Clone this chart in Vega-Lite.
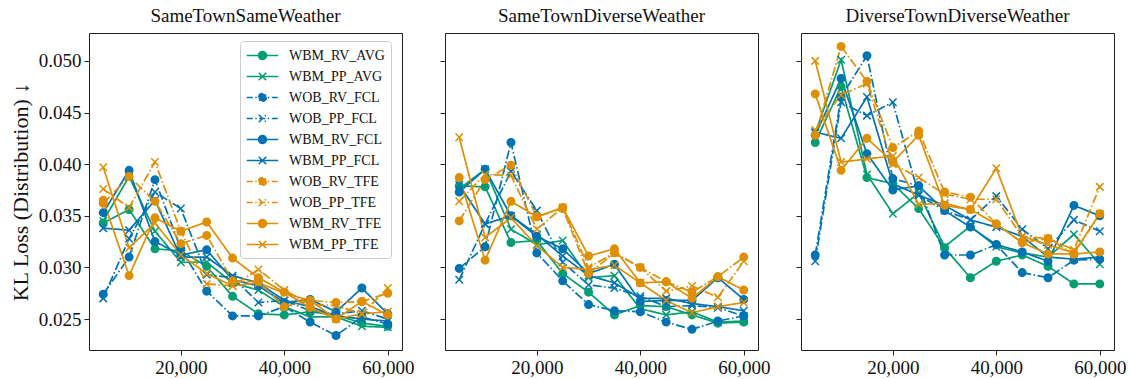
{
"$schema": "https://vega.github.io/schema/vega-lite/v6.json",
"background": "white",
"padding": {"left": 8, "top": 6, "right": 10, "bottom": 2},
"bounds": "flush",
"datasets": {
"A": [
{"series":"WBM_RV_AVG","steps":5000,"kl":0.0343},{"series":"WBM_RV_AVG","steps":10000,"kl":0.0356},{"series":"WBM_RV_AVG","steps":15000,"kl":0.0318},{"series":"WBM_RV_AVG","steps":20000,"kl":0.0316},{"series":"WBM_RV_AVG","steps":25000,"kl":0.0301},{"series":"WBM_RV_AVG","steps":30000,"kl":0.0272},{"series":"WBM_RV_AVG","steps":35000,"kl":0.0255},{"series":"WBM_RV_AVG","steps":40000,"kl":0.0254},{"series":"WBM_RV_AVG","steps":45000,"kl":0.0257},{"series":"WBM_RV_AVG","steps":50000,"kl":0.0254},{"series":"WBM_RV_AVG","steps":55000,"kl":0.0246},{"series":"WBM_RV_AVG","steps":60000,"kl":0.0243},
{"series":"WBM_PP_AVG","steps":5000,"kl":0.0345},{"series":"WBM_PP_AVG","steps":10000,"kl":0.0388},{"series":"WBM_PP_AVG","steps":15000,"kl":0.0335},{"series":"WBM_PP_AVG","steps":20000,"kl":0.0305},{"series":"WBM_PP_AVG","steps":25000,"kl":0.0305},{"series":"WBM_PP_AVG","steps":30000,"kl":0.0285},{"series":"WBM_PP_AVG","steps":35000,"kl":0.0278},{"series":"WBM_PP_AVG","steps":40000,"kl":0.0262},{"series":"WBM_PP_AVG","steps":45000,"kl":0.0252},{"series":"WBM_PP_AVG","steps":50000,"kl":0.0252},{"series":"WBM_PP_AVG","steps":55000,"kl":0.0243},{"series":"WBM_PP_AVG","steps":60000,"kl":0.0242},
{"series":"WOB_RV_FCL","steps":5000,"kl":0.0274},{"series":"WOB_RV_FCL","steps":10000,"kl":0.0310},{"series":"WOB_RV_FCL","steps":15000,"kl":0.0385},{"series":"WOB_RV_FCL","steps":20000,"kl":0.0318},{"series":"WOB_RV_FCL","steps":25000,"kl":0.0277},{"series":"WOB_RV_FCL","steps":30000,"kl":0.0253},{"series":"WOB_RV_FCL","steps":35000,"kl":0.0253},{"series":"WOB_RV_FCL","steps":40000,"kl":0.0262},{"series":"WOB_RV_FCL","steps":45000,"kl":0.0247},{"series":"WOB_RV_FCL","steps":50000,"kl":0.0234},{"series":"WOB_RV_FCL","steps":55000,"kl":0.0252},{"series":"WOB_RV_FCL","steps":60000,"kl":0.0245},
{"series":"WOB_PP_FCL","steps":5000,"kl":0.0270},{"series":"WOB_PP_FCL","steps":10000,"kl":0.0328},{"series":"WOB_PP_FCL","steps":15000,"kl":0.0373},{"series":"WOB_PP_FCL","steps":20000,"kl":0.0357},{"series":"WOB_PP_FCL","steps":25000,"kl":0.0293},{"series":"WOB_PP_FCL","steps":30000,"kl":0.0290},{"series":"WOB_PP_FCL","steps":35000,"kl":0.0266},{"series":"WOB_PP_FCL","steps":40000,"kl":0.0268},{"series":"WOB_PP_FCL","steps":45000,"kl":0.0258},{"series":"WOB_PP_FCL","steps":50000,"kl":0.0255},{"series":"WOB_PP_FCL","steps":55000,"kl":0.0258},{"series":"WOB_PP_FCL","steps":60000,"kl":0.0250},
{"series":"WBM_RV_FCL","steps":5000,"kl":0.0353},{"series":"WBM_RV_FCL","steps":10000,"kl":0.0394},{"series":"WBM_RV_FCL","steps":15000,"kl":0.0325},{"series":"WBM_RV_FCL","steps":20000,"kl":0.0312},{"series":"WBM_RV_FCL","steps":25000,"kl":0.0317},{"series":"WBM_RV_FCL","steps":30000,"kl":0.0288},{"series":"WBM_RV_FCL","steps":35000,"kl":0.0282},{"series":"WBM_RV_FCL","steps":40000,"kl":0.0266},{"series":"WBM_RV_FCL","steps":45000,"kl":0.0269},{"series":"WBM_RV_FCL","steps":50000,"kl":0.0257},{"series":"WBM_RV_FCL","steps":55000,"kl":0.0280},{"series":"WBM_RV_FCL","steps":60000,"kl":0.0255},
{"series":"WBM_PP_FCL","steps":5000,"kl":0.0338},{"series":"WBM_PP_FCL","steps":10000,"kl":0.0336},{"series":"WBM_PP_FCL","steps":15000,"kl":0.0365},{"series":"WBM_PP_FCL","steps":20000,"kl":0.0310},{"series":"WBM_PP_FCL","steps":25000,"kl":0.0310},{"series":"WBM_PP_FCL","steps":30000,"kl":0.0292},{"series":"WBM_PP_FCL","steps":35000,"kl":0.0285},{"series":"WBM_PP_FCL","steps":40000,"kl":0.0268},{"series":"WBM_PP_FCL","steps":45000,"kl":0.0262},{"series":"WBM_PP_FCL","steps":50000,"kl":0.0253},{"series":"WBM_PP_FCL","steps":55000,"kl":0.0250},{"series":"WBM_PP_FCL","steps":60000,"kl":0.0248},
{"series":"WOB_RV_TFE","steps":5000,"kl":0.0362},{"series":"WOB_RV_TFE","steps":10000,"kl":0.0388},{"series":"WOB_RV_TFE","steps":15000,"kl":0.0364},{"series":"WOB_RV_TFE","steps":20000,"kl":0.0323},{"series":"WOB_RV_TFE","steps":25000,"kl":0.0331},{"series":"WOB_RV_TFE","steps":30000,"kl":0.0287},{"series":"WOB_RV_TFE","steps":35000,"kl":0.0286},{"series":"WOB_RV_TFE","steps":40000,"kl":0.0262},{"series":"WOB_RV_TFE","steps":45000,"kl":0.0268},{"series":"WOB_RV_TFE","steps":50000,"kl":0.0266},{"series":"WOB_RV_TFE","steps":55000,"kl":0.0267},{"series":"WOB_RV_TFE","steps":60000,"kl":0.0275},
{"series":"WOB_PP_TFE","steps":5000,"kl":0.0376},{"series":"WOB_PP_TFE","steps":10000,"kl":0.0358},{"series":"WOB_PP_TFE","steps":15000,"kl":0.0402},{"series":"WOB_PP_TFE","steps":20000,"kl":0.0335},{"series":"WOB_PP_TFE","steps":25000,"kl":0.0284},{"series":"WOB_PP_TFE","steps":30000,"kl":0.0282},{"series":"WOB_PP_TFE","steps":35000,"kl":0.0298},{"series":"WOB_PP_TFE","steps":40000,"kl":0.0278},{"series":"WOB_PP_TFE","steps":45000,"kl":0.0264},{"series":"WOB_PP_TFE","steps":50000,"kl":0.0263},{"series":"WOB_PP_TFE","steps":55000,"kl":0.0255},{"series":"WOB_PP_TFE","steps":60000,"kl":0.0280},
{"series":"WBM_RV_TFE","steps":5000,"kl":0.0365},{"series":"WBM_RV_TFE","steps":10000,"kl":0.0292},{"series":"WBM_RV_TFE","steps":15000,"kl":0.0348},{"series":"WBM_RV_TFE","steps":20000,"kl":0.0335},{"series":"WBM_RV_TFE","steps":25000,"kl":0.0344},{"series":"WBM_RV_TFE","steps":30000,"kl":0.0309},{"series":"WBM_RV_TFE","steps":35000,"kl":0.0290},{"series":"WBM_RV_TFE","steps":40000,"kl":0.0276},{"series":"WBM_RV_TFE","steps":45000,"kl":0.0261},{"series":"WBM_RV_TFE","steps":50000,"kl":0.0250},{"series":"WBM_RV_TFE","steps":55000,"kl":0.0267},{"series":"WBM_RV_TFE","steps":60000,"kl":0.0254},
{"series":"WBM_PP_TFE","steps":5000,"kl":0.0397},{"series":"WBM_PP_TFE","steps":10000,"kl":0.0319},{"series":"WBM_PP_TFE","steps":15000,"kl":0.0343},{"series":"WBM_PP_TFE","steps":20000,"kl":0.0312},{"series":"WBM_PP_TFE","steps":25000,"kl":0.0294},{"series":"WBM_PP_TFE","steps":30000,"kl":0.0282},{"series":"WBM_PP_TFE","steps":35000,"kl":0.0285},{"series":"WBM_PP_TFE","steps":40000,"kl":0.0275},{"series":"WBM_PP_TFE","steps":45000,"kl":0.0268},{"series":"WBM_PP_TFE","steps":50000,"kl":0.0250},{"series":"WBM_PP_TFE","steps":55000,"kl":0.0255},{"series":"WBM_PP_TFE","steps":60000,"kl":0.0257}
],
"B": [
{"series":"WBM_RV_AVG","steps":5000,"kl":0.0379},{"series":"WBM_RV_AVG","steps":10000,"kl":0.0378},{"series":"WBM_RV_AVG","steps":15000,"kl":0.0324},{"series":"WBM_RV_AVG","steps":20000,"kl":0.0326},{"series":"WBM_RV_AVG","steps":25000,"kl":0.0294},{"series":"WBM_RV_AVG","steps":30000,"kl":0.0276},{"series":"WBM_RV_AVG","steps":35000,"kl":0.0254},{"series":"WBM_RV_AVG","steps":40000,"kl":0.0263},{"series":"WBM_RV_AVG","steps":45000,"kl":0.0262},{"series":"WBM_RV_AVG","steps":50000,"kl":0.0254},{"series":"WBM_RV_AVG","steps":55000,"kl":0.0246},{"series":"WBM_RV_AVG","steps":60000,"kl":0.0247},
{"series":"WBM_PP_AVG","steps":5000,"kl":0.0376},{"series":"WBM_PP_AVG","steps":10000,"kl":0.0395},{"series":"WBM_PP_AVG","steps":15000,"kl":0.0337},{"series":"WBM_PP_AVG","steps":20000,"kl":0.0322},{"series":"WBM_PP_AVG","steps":25000,"kl":0.0326},{"series":"WBM_PP_AVG","steps":30000,"kl":0.0290},{"series":"WBM_PP_AVG","steps":35000,"kl":0.0292},{"series":"WBM_PP_AVG","steps":40000,"kl":0.0260},{"series":"WBM_PP_AVG","steps":45000,"kl":0.0254},{"series":"WBM_PP_AVG","steps":50000,"kl":0.0257},{"series":"WBM_PP_AVG","steps":55000,"kl":0.0247},{"series":"WBM_PP_AVG","steps":60000,"kl":0.0248},
{"series":"WOB_RV_FCL","steps":5000,"kl":0.0299},{"series":"WOB_RV_FCL","steps":10000,"kl":0.0320},{"series":"WOB_RV_FCL","steps":15000,"kl":0.0421},{"series":"WOB_RV_FCL","steps":20000,"kl":0.0314},{"series":"WOB_RV_FCL","steps":25000,"kl":0.0287},{"series":"WOB_RV_FCL","steps":30000,"kl":0.0264},{"series":"WOB_RV_FCL","steps":35000,"kl":0.0258},{"series":"WOB_RV_FCL","steps":40000,"kl":0.0257},{"series":"WOB_RV_FCL","steps":45000,"kl":0.0247},{"series":"WOB_RV_FCL","steps":50000,"kl":0.0240},{"series":"WOB_RV_FCL","steps":55000,"kl":0.0248},{"series":"WOB_RV_FCL","steps":60000,"kl":0.0253},
{"series":"WOB_PP_FCL","steps":5000,"kl":0.0288},{"series":"WOB_PP_FCL","steps":10000,"kl":0.0342},{"series":"WOB_PP_FCL","steps":15000,"kl":0.0393},{"series":"WOB_PP_FCL","steps":20000,"kl":0.0355},{"series":"WOB_PP_FCL","steps":25000,"kl":0.0305},{"series":"WOB_PP_FCL","steps":30000,"kl":0.0283},{"series":"WOB_PP_FCL","steps":35000,"kl":0.0280},{"series":"WOB_PP_FCL","steps":40000,"kl":0.0272},{"series":"WOB_PP_FCL","steps":45000,"kl":0.0262},{"series":"WOB_PP_FCL","steps":50000,"kl":0.0263},{"series":"WOB_PP_FCL","steps":55000,"kl":0.0261},{"series":"WOB_PP_FCL","steps":60000,"kl":0.0253},
{"series":"WBM_RV_FCL","steps":5000,"kl":0.0373},{"series":"WBM_RV_FCL","steps":10000,"kl":0.0395},{"series":"WBM_RV_FCL","steps":15000,"kl":0.0350},{"series":"WBM_RV_FCL","steps":20000,"kl":0.0330},{"series":"WBM_RV_FCL","steps":25000,"kl":0.0318},{"series":"WBM_RV_FCL","steps":30000,"kl":0.0294},{"series":"WBM_RV_FCL","steps":35000,"kl":0.0303},{"series":"WBM_RV_FCL","steps":40000,"kl":0.0267},{"series":"WBM_RV_FCL","steps":45000,"kl":0.0268},{"series":"WBM_RV_FCL","steps":50000,"kl":0.0268},{"series":"WBM_RV_FCL","steps":55000,"kl":0.0290},{"series":"WBM_RV_FCL","steps":60000,"kl":0.0269},
{"series":"WBM_PP_FCL","steps":5000,"kl":0.0380},{"series":"WBM_PP_FCL","steps":10000,"kl":0.0342},{"series":"WBM_PP_FCL","steps":15000,"kl":0.0350},{"series":"WBM_PP_FCL","steps":20000,"kl":0.0332},{"series":"WBM_PP_FCL","steps":25000,"kl":0.0311},{"series":"WBM_PP_FCL","steps":30000,"kl":0.0292},{"series":"WBM_PP_FCL","steps":35000,"kl":0.0285},{"series":"WBM_PP_FCL","steps":40000,"kl":0.0270},{"series":"WBM_PP_FCL","steps":45000,"kl":0.0270},{"series":"WBM_PP_FCL","steps":50000,"kl":0.0265},{"series":"WBM_PP_FCL","steps":55000,"kl":0.0262},{"series":"WBM_PP_FCL","steps":60000,"kl":0.0258},
{"series":"WOB_RV_TFE","steps":5000,"kl":0.0345},{"series":"WOB_RV_TFE","steps":10000,"kl":0.0385},{"series":"WOB_RV_TFE","steps":15000,"kl":0.0399},{"series":"WOB_RV_TFE","steps":20000,"kl":0.0349},{"series":"WOB_RV_TFE","steps":25000,"kl":0.0357},{"series":"WOB_RV_TFE","steps":30000,"kl":0.0294},{"series":"WOB_RV_TFE","steps":35000,"kl":0.0314},{"series":"WOB_RV_TFE","steps":40000,"kl":0.0300},{"series":"WOB_RV_TFE","steps":45000,"kl":0.0286},{"series":"WOB_RV_TFE","steps":50000,"kl":0.0276},{"series":"WOB_RV_TFE","steps":55000,"kl":0.0291},{"series":"WOB_RV_TFE","steps":60000,"kl":0.0310},
{"series":"WOB_PP_TFE","steps":5000,"kl":0.0364},{"series":"WOB_PP_TFE","steps":10000,"kl":0.0390},{"series":"WOB_PP_TFE","steps":15000,"kl":0.0389},{"series":"WOB_PP_TFE","steps":20000,"kl":0.0337},{"series":"WOB_PP_TFE","steps":25000,"kl":0.0358},{"series":"WOB_PP_TFE","steps":30000,"kl":0.0300},{"series":"WOB_PP_TFE","steps":35000,"kl":0.0314},{"series":"WOB_PP_TFE","steps":40000,"kl":0.0300},{"series":"WOB_PP_TFE","steps":45000,"kl":0.0277},{"series":"WOB_PP_TFE","steps":50000,"kl":0.0282},{"series":"WOB_PP_TFE","steps":55000,"kl":0.0271},{"series":"WOB_PP_TFE","steps":60000,"kl":0.0306},
{"series":"WBM_RV_TFE","steps":5000,"kl":0.0387},{"series":"WBM_RV_TFE","steps":10000,"kl":0.0307},{"series":"WBM_RV_TFE","steps":15000,"kl":0.0364},{"series":"WBM_RV_TFE","steps":20000,"kl":0.0349},{"series":"WBM_RV_TFE","steps":25000,"kl":0.0358},{"series":"WBM_RV_TFE","steps":30000,"kl":0.0311},{"series":"WBM_RV_TFE","steps":35000,"kl":0.0318},{"series":"WBM_RV_TFE","steps":40000,"kl":0.0285},{"series":"WBM_RV_TFE","steps":45000,"kl":0.0286},{"series":"WBM_RV_TFE","steps":50000,"kl":0.0270},{"series":"WBM_RV_TFE","steps":55000,"kl":0.0291},{"series":"WBM_RV_TFE","steps":60000,"kl":0.0278},
{"series":"WBM_PP_TFE","steps":5000,"kl":0.0426},{"series":"WBM_PP_TFE","steps":10000,"kl":0.0329},{"series":"WBM_PP_TFE","steps":15000,"kl":0.0348},{"series":"WBM_PP_TFE","steps":20000,"kl":0.0321},{"series":"WBM_PP_TFE","steps":25000,"kl":0.0300},{"series":"WBM_PP_TFE","steps":30000,"kl":0.0298},{"series":"WBM_PP_TFE","steps":35000,"kl":0.0302},{"series":"WBM_PP_TFE","steps":40000,"kl":0.0285},{"series":"WBM_PP_TFE","steps":45000,"kl":0.0268},{"series":"WBM_PP_TFE","steps":50000,"kl":0.0256},{"series":"WBM_PP_TFE","steps":55000,"kl":0.0262},{"series":"WBM_PP_TFE","steps":60000,"kl":0.0266}
],
"C": [
{"series":"WBM_RV_AVG","steps":5000,"kl":0.0421},{"series":"WBM_RV_AVG","steps":10000,"kl":0.0475},{"series":"WBM_RV_AVG","steps":15000,"kl":0.0387},{"series":"WBM_RV_AVG","steps":20000,"kl":0.0381},{"series":"WBM_RV_AVG","steps":25000,"kl":0.0357},{"series":"WBM_RV_AVG","steps":30000,"kl":0.0319},{"series":"WBM_RV_AVG","steps":35000,"kl":0.0290},{"series":"WBM_RV_AVG","steps":40000,"kl":0.0306},{"series":"WBM_RV_AVG","steps":45000,"kl":0.0312},{"series":"WBM_RV_AVG","steps":50000,"kl":0.0301},{"series":"WBM_RV_AVG","steps":55000,"kl":0.0284},{"series":"WBM_RV_AVG","steps":60000,"kl":0.0284},
{"series":"WBM_PP_AVG","steps":5000,"kl":0.0430},{"series":"WBM_PP_AVG","steps":10000,"kl":0.0501},{"series":"WBM_PP_AVG","steps":15000,"kl":0.0390},{"series":"WBM_PP_AVG","steps":20000,"kl":0.0352},{"series":"WBM_PP_AVG","steps":25000,"kl":0.0372},{"series":"WBM_PP_AVG","steps":30000,"kl":0.0320},{"series":"WBM_PP_AVG","steps":35000,"kl":0.0340},{"series":"WBM_PP_AVG","steps":40000,"kl":0.0320},{"series":"WBM_PP_AVG","steps":45000,"kl":0.0314},{"series":"WBM_PP_AVG","steps":50000,"kl":0.0310},{"series":"WBM_PP_AVG","steps":55000,"kl":0.0332},{"series":"WBM_PP_AVG","steps":60000,"kl":0.0303},
{"series":"WOB_RV_FCL","steps":5000,"kl":0.0312},{"series":"WOB_RV_FCL","steps":10000,"kl":0.0465},{"series":"WOB_RV_FCL","steps":15000,"kl":0.0505},{"series":"WOB_RV_FCL","steps":20000,"kl":0.0386},{"series":"WOB_RV_FCL","steps":25000,"kl":0.0379},{"series":"WOB_RV_FCL","steps":30000,"kl":0.0312},{"series":"WOB_RV_FCL","steps":35000,"kl":0.0312},{"series":"WOB_RV_FCL","steps":40000,"kl":0.0322},{"series":"WOB_RV_FCL","steps":45000,"kl":0.0295},{"series":"WOB_RV_FCL","steps":50000,"kl":0.0290},{"series":"WOB_RV_FCL","steps":55000,"kl":0.0307},{"series":"WOB_RV_FCL","steps":60000,"kl":0.0308},
{"series":"WOB_PP_FCL","steps":5000,"kl":0.0306},{"series":"WOB_PP_FCL","steps":10000,"kl":0.0460},{"series":"WOB_PP_FCL","steps":15000,"kl":0.0447},{"series":"WOB_PP_FCL","steps":20000,"kl":0.0460},{"series":"WOB_PP_FCL","steps":25000,"kl":0.0370},{"series":"WOB_PP_FCL","steps":30000,"kl":0.0355},{"series":"WOB_PP_FCL","steps":35000,"kl":0.0346},{"series":"WOB_PP_FCL","steps":40000,"kl":0.0369},{"series":"WOB_PP_FCL","steps":45000,"kl":0.0337},{"series":"WOB_PP_FCL","steps":50000,"kl":0.0318},{"series":"WOB_PP_FCL","steps":55000,"kl":0.0346},{"series":"WOB_PP_FCL","steps":60000,"kl":0.0335},
{"series":"WBM_RV_FCL","steps":5000,"kl":0.0428},{"series":"WBM_RV_FCL","steps":10000,"kl":0.0483},{"series":"WBM_RV_FCL","steps":15000,"kl":0.0410},{"series":"WBM_RV_FCL","steps":20000,"kl":0.0375},{"series":"WBM_RV_FCL","steps":25000,"kl":0.0379},{"series":"WBM_RV_FCL","steps":30000,"kl":0.0355},{"series":"WBM_RV_FCL","steps":35000,"kl":0.0339},{"series":"WBM_RV_FCL","steps":40000,"kl":0.0322},{"series":"WBM_RV_FCL","steps":45000,"kl":0.0315},{"series":"WBM_RV_FCL","steps":50000,"kl":0.0306},{"series":"WBM_RV_FCL","steps":55000,"kl":0.0360},{"series":"WBM_RV_FCL","steps":60000,"kl":0.0350},
{"series":"WBM_PP_FCL","steps":5000,"kl":0.0431},{"series":"WBM_PP_FCL","steps":10000,"kl":0.0425},{"series":"WBM_PP_FCL","steps":15000,"kl":0.0465},{"series":"WBM_PP_FCL","steps":20000,"kl":0.0381},{"series":"WBM_PP_FCL","steps":25000,"kl":0.0370},{"series":"WBM_PP_FCL","steps":30000,"kl":0.0360},{"series":"WBM_PP_FCL","steps":35000,"kl":0.0346},{"series":"WBM_PP_FCL","steps":40000,"kl":0.0339},{"series":"WBM_PP_FCL","steps":45000,"kl":0.0330},{"series":"WBM_PP_FCL","steps":50000,"kl":0.0310},{"series":"WBM_PP_FCL","steps":55000,"kl":0.0308},{"series":"WBM_PP_FCL","steps":60000,"kl":0.0310},
{"series":"WOB_RV_TFE","steps":5000,"kl":0.0428},{"series":"WOB_RV_TFE","steps":10000,"kl":0.0514},{"series":"WOB_RV_TFE","steps":15000,"kl":0.0480},{"series":"WOB_RV_TFE","steps":20000,"kl":0.0416},{"series":"WOB_RV_TFE","steps":25000,"kl":0.0432},{"series":"WOB_RV_TFE","steps":30000,"kl":0.0373},{"series":"WOB_RV_TFE","steps":35000,"kl":0.0368},{"series":"WOB_RV_TFE","steps":40000,"kl":0.0342},{"series":"WOB_RV_TFE","steps":45000,"kl":0.0324},{"series":"WOB_RV_TFE","steps":50000,"kl":0.0328},{"series":"WOB_RV_TFE","steps":55000,"kl":0.0313},{"series":"WOB_RV_TFE","steps":60000,"kl":0.0352},
{"series":"WOB_PP_TFE","steps":5000,"kl":0.0433},{"series":"WOB_PP_TFE","steps":10000,"kl":0.0467},{"series":"WOB_PP_TFE","steps":15000,"kl":0.0478},{"series":"WOB_PP_TFE","steps":20000,"kl":0.0400},{"series":"WOB_PP_TFE","steps":25000,"kl":0.0387},{"series":"WOB_PP_TFE","steps":30000,"kl":0.0371},{"series":"WOB_PP_TFE","steps":35000,"kl":0.0366},{"series":"WOB_PP_TFE","steps":40000,"kl":0.0366},{"series":"WOB_PP_TFE","steps":45000,"kl":0.0330},{"series":"WOB_PP_TFE","steps":50000,"kl":0.0328},{"series":"WOB_PP_TFE","steps":55000,"kl":0.0317},{"series":"WOB_PP_TFE","steps":60000,"kl":0.0378},
{"series":"WBM_RV_TFE","steps":5000,"kl":0.0468},{"series":"WBM_RV_TFE","steps":10000,"kl":0.0394},{"series":"WBM_RV_TFE","steps":15000,"kl":0.0425},{"series":"WBM_RV_TFE","steps":20000,"kl":0.0402},{"series":"WBM_RV_TFE","steps":25000,"kl":0.0428},{"series":"WBM_RV_TFE","steps":30000,"kl":0.0360},{"series":"WBM_RV_TFE","steps":35000,"kl":0.0356},{"series":"WBM_RV_TFE","steps":40000,"kl":0.0342},{"series":"WBM_RV_TFE","steps":45000,"kl":0.0324},{"series":"WBM_RV_TFE","steps":50000,"kl":0.0313},{"series":"WBM_RV_TFE","steps":55000,"kl":0.0313},{"series":"WBM_RV_TFE","steps":60000,"kl":0.0315},
{"series":"WBM_PP_TFE","steps":5000,"kl":0.0500},{"series":"WBM_PP_TFE","steps":10000,"kl":0.0402},{"series":"WBM_PP_TFE","steps":15000,"kl":0.0405},{"series":"WBM_PP_TFE","steps":20000,"kl":0.0408},{"series":"WBM_PP_TFE","steps":25000,"kl":0.0361},{"series":"WBM_PP_TFE","steps":30000,"kl":0.0362},{"series":"WBM_PP_TFE","steps":35000,"kl":0.0356},{"series":"WBM_PP_TFE","steps":40000,"kl":0.0396},{"series":"WBM_PP_TFE","steps":45000,"kl":0.0330},{"series":"WBM_PP_TFE","steps":50000,"kl":0.0322},{"series":"WBM_PP_TFE","steps":55000,"kl":0.0314},{"series":"WBM_PP_TFE","steps":60000,"kl":0.0352}
]
},
"config": {
"font": "Liberation Serif",
"view": {"stroke": "#222222", "strokeWidth": 1},
"axis": {"labelFont": "Liberation Serif", "labelFontSize": 19, "labelColor": "#111111", "tickColor": "#222222", "tickSize": 5, "labelPadding": 3, "domain": false, "grid": false, "titleFont": "Liberation Serif", "titleFontSize": 22, "titleFontWeight": "normal", "titleColor": "#111111", "titlePadding": 6},
"title": {"font": "Liberation Serif", "fontSize": 19, "fontWeight": "normal", "color": "#111111", "offset": 7},
"concat": {"spacing": 43}
},
"resolve": {"scale": {"color": "shared", "stroke": "shared", "shape": "shared", "strokeDash": "shared", "y": "shared"}},
"hconcat": [
{
"width": 313, "height": 317, "title": "SameTownSameWeather", "data": {"name": "A"},
"layer": [
{"mark": {"type": "line", "strokeWidth": 1.7},
 "encoding": {
  "x": {"field": "steps", "type": "quantitative", "scale": {"domain": [2250, 62750], "nice": false, "zero": false}, "axis": {"values": [20000, 40000, 60000], "format": ",d", "title": null}},
  "y": {"field": "kl", "type": "quantitative", "scale": {"domain": [0.022, 0.0527], "nice": false, "zero": false}, "axis": {"values": [0.025, 0.03, 0.035, 0.04, 0.045, 0.05], "format": ".3f", "title": "KL Loss (Distribution) ↓"}},
  "color": {"field": "series", "type": "nominal", "scale": {"domain": ["WBM_RV_AVG","WBM_PP_AVG","WOB_RV_FCL","WOB_PP_FCL","WBM_RV_FCL","WBM_PP_FCL","WOB_RV_TFE","WOB_PP_TFE","WBM_RV_TFE","WBM_PP_TFE"], "range": ["#029E73","#029E73","#0173B2","#0173B2","#0173B2","#0173B2","#DE8F05","#DE8F05","#DE8F05","#DE8F05"]},
   "legend": {"title": null, "orient": "none", "legendX": 151, "legendY": 8, "symbolSize": 225, "symbolOffset": 8, "labelFont": "Liberation Serif", "labelFontSize": 14, "labelColor": "#111111", "labelOffset": 18, "rowPadding": 5, "padding": 6, "strokeColor": "#cccccc", "fillColor": "white", "cornerRadius": 3, "symbolStrokeWidth": 1.5,
    "encode": {"symbols": {"update": {
      "shape": {"signal": "indexof(datum.value, '_RV_') >= 0 ? 'M-2.1,0L2.1,0M0.53,0A0.53,0.53,0,1,1,-0.53,0A0.53,0.53,0,1,1,0.53,0' : 'M-2.1,0L2.1,0M-0.5,-0.5L0.5,0.5M-0.5,0.5L0.5,-0.5'"},
      "strokeDash": {"signal": "indexof(datum.value, 'WOB') == 0 ? [6, 2.5, 1.5, 2.5] : [1, 0]"},
      "strokeWidth": {"value": 1.5},
      "opacity": {"value": 1}
    }}}}},
  "strokeDash": {"field": "series", "type": "nominal", "scale": {"domain": ["WBM_PP_AVG","WBM_RV_AVG","WOB_PP_FCL","WOB_RV_FCL","WBM_PP_FCL","WBM_RV_FCL","WOB_PP_TFE","WOB_RV_TFE","WBM_PP_TFE","WBM_RV_TFE"], "range": [[1,0],[1,0],[9,2.5,1.5,2.5],[9,2.5,1.5,2.5],[1,0],[1,0],[9,2.5,1.5,2.5],[9,2.5,1.5,2.5],[1,0],[1,0]]}, "legend": null}
 }},
{"mark": {"type": "point", "filled": true, "size": 56, "opacity": 1, "strokeWidth": 1.5},
 "encoding": {
  "x": {"field": "steps", "type": "quantitative"},
  "y": {"field": "kl", "type": "quantitative"},
  "color": {"field": "series", "type": "nominal"},
  "stroke": {"field": "series", "type": "nominal", "scale": {"domain": ["WBM_PP_AVG","WBM_RV_AVG","WOB_PP_FCL","WOB_RV_FCL","WBM_PP_FCL","WBM_RV_FCL","WOB_PP_TFE","WOB_RV_TFE","WBM_PP_TFE","WBM_RV_TFE"], "range": ["#029E73","#029E73","#0173B2","#0173B2","#0173B2","#0173B2","#DE8F05","#DE8F05","#DE8F05","#DE8F05"]}, "legend": null},
  "shape": {"field": "series", "type": "nominal", "scale": {"domain": ["WBM_PP_AVG","WBM_RV_AVG","WOB_PP_FCL","WOB_RV_FCL","WBM_PP_FCL","WBM_RV_FCL","WOB_PP_TFE","WOB_RV_TFE","WBM_PP_TFE","WBM_RV_TFE"], "range": ["M-1,-1L1,1M-1,1L1,-1","circle","M-1,-1L1,1M-1,1L1,-1","circle","M-1,-1L1,1M-1,1L1,-1","circle","M-1,-1L1,1M-1,1L1,-1","circle","M-1,-1L1,1M-1,1L1,-1","circle"]}, "legend": null}
 }}
]
},
{
"width": 313, "height": 317, "title": "SameTownDiverseWeather", "data": {"name": "B"},
"layer": [
{"mark": {"type": "line", "strokeWidth": 1.7},
 "encoding": {
  "x": {"field": "steps", "type": "quantitative", "scale": {"domain": [2250, 62750], "nice": false, "zero": false}, "axis": {"values": [20000, 40000, 60000], "format": ",d", "title": null}},
  "y": {"field": "kl", "type": "quantitative", "scale": {"domain": [0.022, 0.0527], "nice": false, "zero": false}, "axis": {"values": [0.025, 0.03, 0.035, 0.04, 0.045, 0.05], "labels": false, "title": null}},
  "color": {"field": "series", "type": "nominal"},
  "strokeDash": {"field": "series", "type": "nominal", "legend": null}
 }},
{"mark": {"type": "point", "filled": true, "size": 56, "opacity": 1, "strokeWidth": 1.5},
 "encoding": {
  "x": {"field": "steps", "type": "quantitative"},
  "y": {"field": "kl", "type": "quantitative"},
  "color": {"field": "series", "type": "nominal"},
  "stroke": {"field": "series", "type": "nominal", "legend": null},
  "shape": {"field": "series", "type": "nominal", "legend": null}
 }}
]
},
{
"width": 313, "height": 317, "title": "DiverseTownDiverseWeather", "data": {"name": "C"},
"layer": [
{"mark": {"type": "line", "strokeWidth": 1.7},
 "encoding": {
  "x": {"field": "steps", "type": "quantitative", "scale": {"domain": [2250, 62750], "nice": false, "zero": false}, "axis": {"values": [20000, 40000, 60000], "format": ",d", "title": null}},
  "y": {"field": "kl", "type": "quantitative", "scale": {"domain": [0.022, 0.0527], "nice": false, "zero": false}, "axis": {"values": [0.025, 0.03, 0.035, 0.04, 0.045, 0.05], "labels": false, "title": null}},
  "color": {"field": "series", "type": "nominal"},
  "strokeDash": {"field": "series", "type": "nominal", "legend": null}
 }},
{"mark": {"type": "point", "filled": true, "size": 56, "opacity": 1, "strokeWidth": 1.5},
 "encoding": {
  "x": {"field": "steps", "type": "quantitative"},
  "y": {"field": "kl", "type": "quantitative"},
  "color": {"field": "series", "type": "nominal"},
  "stroke": {"field": "series", "type": "nominal", "legend": null},
  "shape": {"field": "series", "type": "nominal", "legend": null}
 }}
]
}
]
}
